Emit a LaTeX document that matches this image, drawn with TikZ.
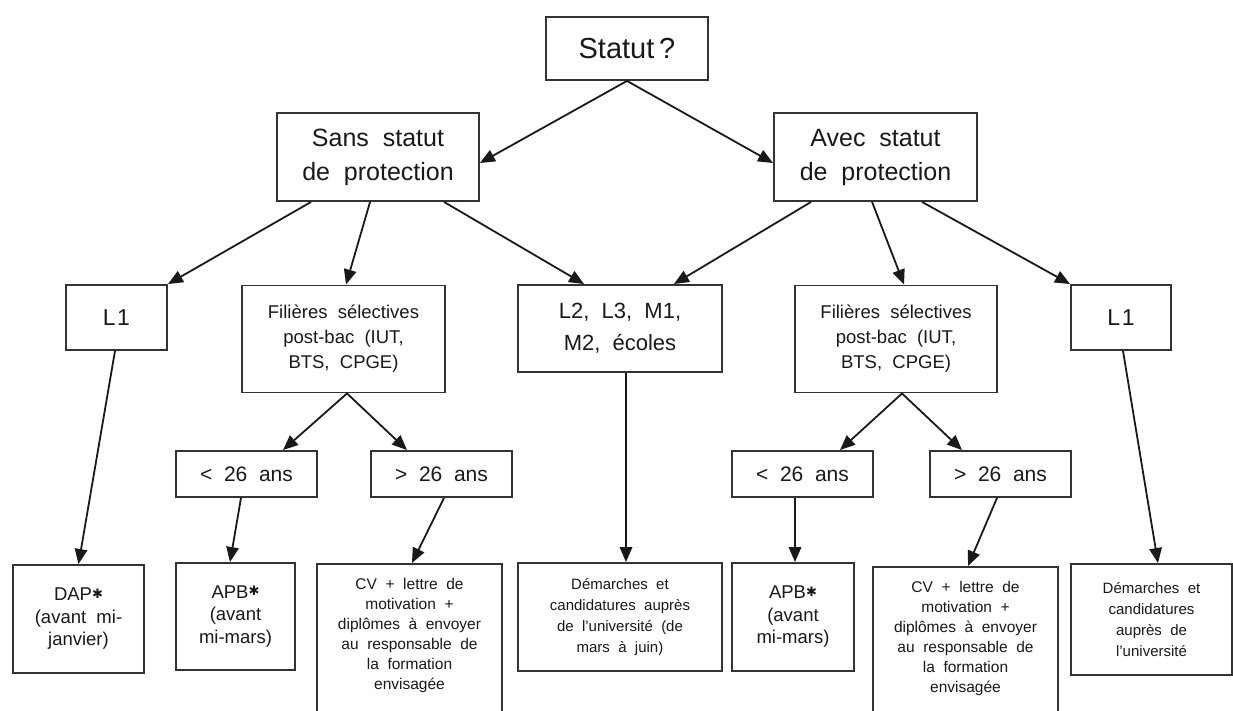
\documentclass[tikz,border=0pt]{standalone}
\usepackage{fontspec}
\setmainfont{Liberation Sans}[WordSpace=2]
\newfontfamily\symfont{DejaVu Sans}
\usetikzlibrary{arrows.meta,calc}
\newcommand\starsym{{\symfont\fontsize{13}{13}\selectfont\raisebox{2.5pt}{✱}}}
\tikzset{
  box/.style={draw=black!80, line width=1.9pt, fill=white, align=center, inner sep=0pt, text=black!90},
  arr/.style={draw=black!90, line width=1.8pt, -{Triangle[length=15pt,width=12.5pt]}},
  fA/.style={font=\fontsize{29}{34}\selectfont},
  fB/.style={font=\fontsize{25}{34}\selectfont},
  fL/.style={font=\fontsize{23}{30}\selectfont},
  fM/.style={font=\fontsize{22}{32}\selectfont},
  fF/.style={font=\fontsize{18.5}{25}\selectfont},
  fAge/.style={font=\fontsize{21}{25}\selectfont},
  fS/.style={font=\fontsize{18.5}{22.5}\selectfont},
  fT/.style={font=\fontsize{15}{21}\selectfont},
  fCV/.style={font=\fontsize{15.5}{20}\selectfont},
}
\begin{document}
\begin{tikzpicture}[x=1pt,y=-1pt]
\useasboundingbox (0,0) rectangle (1233,711);
\clip (0,0) rectangle (1233,711);
% level 1
\node[box,fA,minimum width=162pt,minimum height=63pt] (stat) at (627,48.5) {Statut\,?};
% level 2
\node[box,fB,minimum width=202pt,minimum height=88pt] (sans) at (378,157) {Sans statut\\de protection};
\node[box,fB,minimum width=203pt,minimum height=88pt] (avec) at (875.5,157) {Avec statut\\de protection};
% level 3
\node[box,fL,minimum width=101pt,minimum height=65pt] (l1a) at (116.5,317.5) {L\kern1.5pt 1};
\node[box,fF,minimum width=203pt,minimum height=107pt] (filA) at (343.5,339) {Filières sélectives\\post-bac (IUT,\\BTS, CPGE)};
\node[box,fM,minimum width=204pt,minimum height=87pt] (l2) at (620,328.5) {L2, L3, M1,\\M2, écoles};
\node[box,fF,minimum width=202pt,minimum height=107pt] (filB) at (896,339) {Filières sélectives\\post-bac (IUT,\\BTS, CPGE)};
\node[box,fL,minimum width=100pt,minimum height=65pt] (l1b) at (1121,317.5) {L\kern1.5pt 1};
% level 4
\node[box,fAge,minimum width=141pt,minimum height=46pt] (ltA) at (246.5,474) {< 26 ans};
\node[box,fAge,minimum width=141pt,minimum height=46pt] (gtA) at (441.5,474) {> 26 ans};
\node[box,fAge,minimum width=141pt,minimum height=46pt] (ltB) at (802.5,474) {< 26 ans};
\node[box,fAge,minimum width=141pt,minimum height=46pt] (gtB) at (1000.5,474) {> 26 ans};
% level 5
\node[box,fS,minimum width=131pt,minimum height=108pt] (dap) at (78.5,619) {DAP\starsym\\(avant mi-\\janvier)};
\node[box,fS,minimum width=119pt,minimum height=107pt] (apbA) at (235.5,616.5) {APB\starsym\\(avant\\mi-mars)};
\node[box,fCV,anchor=north] (cvA) at (409.5,563) {\parbox[c][190pt][t]{185pt}{\centering\vspace*{14pt}CV + lettre de\\motivation +\\diplômes à envoyer\\au responsable de\\la formation\\envisagée}};
\node[box,fT,minimum width=204pt,minimum height=108pt] (dem) at (620,617) {Démarches et\\candidatures auprès\\de l'université (de\\mars à juin)};
\node[box,fS,minimum width=122pt,minimum height=108pt] (apbB) at (793,617) {APB\starsym\\(avant\\mi-mars)};
\node[box,fCV,anchor=north] (cvB) at (965.5,566) {\parbox[c][190pt][t]{185pt}{\centering\vspace*{14pt}CV + lettre de\\motivation +\\diplômes à envoyer\\au responsable de\\la formation\\envisagée}};
\node[box,fT,minimum width=161pt,minimum height=111pt] (demB) at (1151.5,619.5) {Démarches et\\candidatures\\auprès de\\l'université};
% connectors
\draw[arr] (stat.south) -- ($(sans.east)+(0,6)$);
\draw[arr] (stat.south) -- ($(avec.west)+(0,6)$);
\draw[arr] ($(sans.south west)+(35,0)$) -- (l1a.north east);
\draw[arr] ($(sans.south west)+(94,0)$) -- ($(filA.north)+(2.5,0)$);
\draw[arr] ($(sans.south west)+(168,0)$) -- ($(l2.north west)+(67,0)$);
\draw[arr] ($(avec.south west)+(38,0)$) -- ($(l2.north east)+(-49,0)$);
\draw[arr] ($(avec.south west)+(99,0)$) -- ($(filB.north)+(8,0)$);
\draw[arr] ($(avec.south west)+(149,0)$) -- (l1b.north west);
\draw[arr] ($(filA.south)+(3.5,0)$) -- ($(ltA.north)+(36.5,0)$);
\draw[arr] ($(filA.south)+(3.5,0)$) -- ($(gtA.north)+(-34.5,0)$);
\draw[arr] ($(filB.south)+(6,0)$) -- ($(ltB.north)+(37.5,0)$);
\draw[arr] ($(filB.south)+(6,0)$) -- ($(gtB.north)+(-38.5,0)$);
\draw[arr] ($(l1a.south)+(-1.5,0)$) -- (dap.north);
\draw[arr] ($(ltA.south)+(-5.5,0)$) -- ($(apbA.north)+(-5.5,0)$);
\draw[arr] ($(gtA.south)+(2.5,0)$) -- ($(cvA.north)+(2.5,0)$);
\draw[arr] ($(l2.south)+(6,0)$) -- ($(dem.north)+(6,0)$);
\draw[arr] ($(ltB.south)+(-7.5,0)$) -- ($(apbB.north)+(2,0)$);
\draw[arr] ($(gtB.south)+(-3.5,0)$) -- ($(cvB.north)+(2.5,0)$);
\draw[arr] ($(l1b.south)+(2,0)$) -- ($(demB.north)+(6.5,0)$);
\end{tikzpicture}
\end{document}
